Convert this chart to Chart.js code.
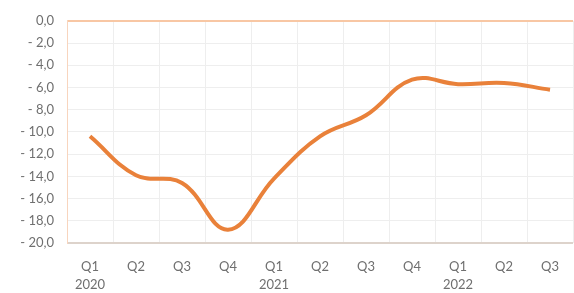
<!DOCTYPE html>
<html>
<head>
<meta charset="utf-8">
<script src="https://cdn.jsdelivr.net/npm/chart.js@4"></script>
<style>
  html, body { margin: 0; padding: 0; background: #fff; }
  #wrap { width: 574px; height: 293px; }
</style>
</head>
<body>
<div id="wrap"><canvas id="chart"></canvas></div>
<script>
// quarters and years (year shown under Q1 only)
const quarters = ["Q1", "Q2", "Q3", "Q4", "Q1", "Q2", "Q3", "Q4", "Q1", "Q2", "Q3"];
const years = ["2020", "", "", "", "2021", "", "", "", "2022", "", ""];

// values
const values = [-10.4, -13.9, -14.6, -18.8, -14.2, -10.4, -8.5, -5.3, -5.7, -5.6, -6.2];

const labels = quarters.map((q, i) => years[i] ? [q, years[i]] : q);

function fmt(v) {
    const s = Math.abs(v).toFixed(1).replace(".", ",");
    return v < 0 ? "- " + s : s;
}

new Chart(document.getElementById("chart"), {
    type: "line",
    data: {
        labels: labels,
        datasets: [{
            data: values,
            borderColor: "#E9813A",
            borderWidth: 4,
            pointRadius: 0,
            tension: 0.4,
            fill: false
        }]
    },
    options: {
        responsive: true,
        maintainAspectRatio: false,
        animation: false,
        layout: { padding: { top: 6, right: 0, left: 0, bottom: 0 } },
        plugins: {
            legend: { display: false },
            tooltip: { enabled: false }
        },
        scales: {
            x: {
                offset: true,
                grid: { offset: true, color: "#eeeeee", drawTicks: false },
                border: { display: false },
                ticks: {
                    color: "#6f6f6f",
                    padding: 15,
                    maxRotation: 0,
                    autoSkip: false,
                    font: { family: "Lato", size: 13, lineHeight: 1.4 }
                },
                afterFit: (scale) => { scale.height = 50; }
            },
            y: {
                min: -20,
                max: 0,
                grid: {
                    color: (ctx) => ctx.tick.value === 0 ? "#F8C7A4" : (ctx.tick.value === -20 ? "#DDD3CB" : "#eeeeee"),
                    lineWidth: (ctx) => (ctx.tick.value === 0 || ctx.tick.value === -20) ? 2 : 1,
                    drawTicks: false
                },
                border: { display: true, color: "#F8D5BE" },
                ticks: {
                    stepSize: 2,
                    color: "#6f6f6f",
                    padding: 13,
                    font: { family: "Lato", size: 13 },
                    callback: (v) => fmt(v)
                },
                afterFit: (scale) => { scale.width = 67; }
            }
        }
    }
});
</script>
</body>
</html>
